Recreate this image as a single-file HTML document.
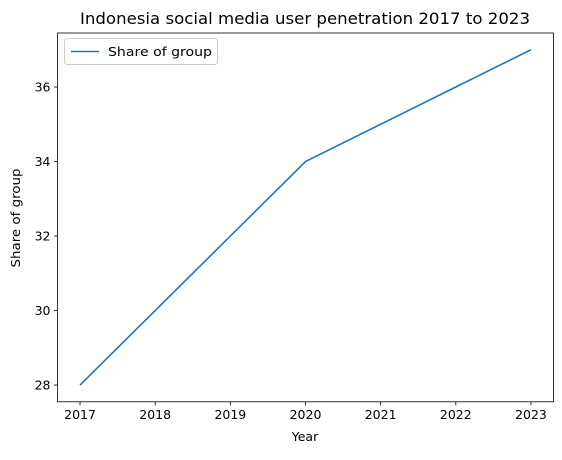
<!DOCTYPE html>
<html><head><meta charset="utf-8"><style>
body{margin:0;background:#fff;font-family:"Liberation Sans","DejaVu Sans",sans-serif;}
text{font-family:"DejaVu Sans","Liberation Sans",sans-serif;}
</style></head><body>
<svg id="chart" width="562" height="455" xmlns="http://www.w3.org/2000/svg">
<rect width="562" height="455" fill="#fff"/>
<text x="305" y="24" text-anchor="middle" font-size="16" textLength="450" lengthAdjust="spacingAndGlyphs">Indonesia social media user penetration 2017 to 2023</text>
<g id="axes"></g>
<text x="305" y="441" text-anchor="middle" font-size="12.5">Year</text>
<text transform="translate(20,218) rotate(-90)" text-anchor="middle" font-size="12.5" textLength="99" lengthAdjust="spacingAndGlyphs">Share of group</text>
</svg>
<script>
const years = [2017, 2018, 2019, 2020, 2021, 2022, 2023];
const shares = [28, 30, 32, 34, 35, 36, 37];
const yTicks = [28, 30, 32, 34, 36];
const L=57.5,R=553.5,T=33,B=401.8;
const xMin=2016.7,xMax=2023.3,yMin=27.55,yMax=37.45;
function sx(v){return L+(v-xMin)/(xMax-xMin)*(R-L);}
function sy(v){return B-(v-yMin)/(yMax-yMin)*(B-T);}
const NS="http://www.w3.org/2000/svg";
const g=document.getElementById('axes');
function mk(tag,attrs){const e=document.createElementNS(NS,tag);for(const k in attrs)e.setAttribute(k,attrs[k]);g.appendChild(e);return e;}
const frame=mk('rect',{x:L,y:T,width:R-L,height:B-T,fill:'none',stroke:'#000','stroke-width':0.8});


years.forEach(y=>{
  const t=mk('line',{x1:sx(y),x2:sx(y),y1:B,y2:B+3.5,stroke:'#000','stroke-width':0.8});
  
  
  const l=mk('text',{x:sx(y),y:B+17,'text-anchor':'middle','font-size':12.5});
  l.textContent=y;
  
  
});
yTicks.forEach(v=>{
  const t=mk('line',{x1:L-3.5,x2:L,y1:sy(v),y2:sy(v),stroke:'#000','stroke-width':0.8});
  
  
  const l=mk('text',{x:L-7,y:sy(v)+4.5,'text-anchor':'end','font-size':12.5});
  l.textContent=v;
  
  
});
const pts=years.map((y,i)=>sx(y)+','+sy(shares[i])).join(' ');
const line=mk('polyline',{points:pts,fill:'none',stroke:'#1f77b4','stroke-width':1.6});


const lg=mk('rect',{x:64.5,y:38.5,width:153,height:26,rx:3,fill:'#fff',stroke:'#ccc','stroke-width':1});


const ll=mk('line',{x1:71,x2:99,y1:51.5,y2:51.5,stroke:'#1f77b4','stroke-width':1.6});


const lt=mk('text',{x:108,y:56,'font-size':12.5,textLength:104,lengthAdjust:'spacingAndGlyphs'});
lt.textContent='Share of group';


</script>
</body></html>
